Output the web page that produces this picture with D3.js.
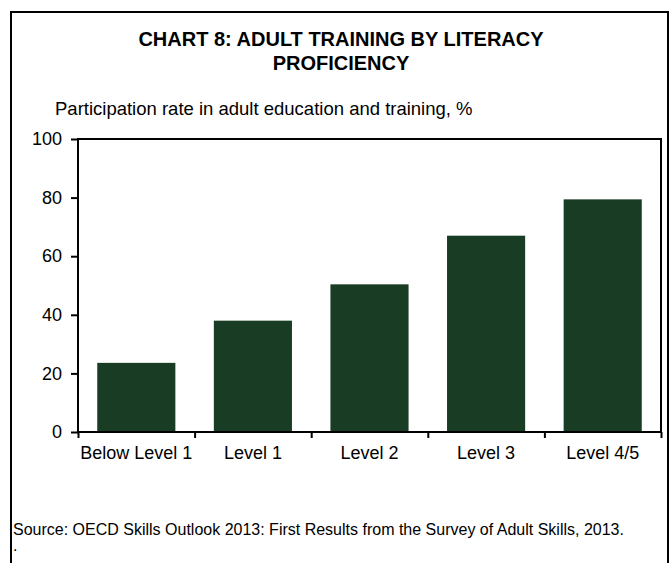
<!DOCTYPE html>
<html>
<head>
<meta charset="utf-8">
<script src="https://cdn.jsdelivr.net/npm/d3@7"></script>
<style>
    body { margin: 0; background: #fff; }
    text { font-family: Arial, "Liberation Sans", sans-serif; fill: #000; }
</style>
</head>
<body>
<div id="chart"></div>
<script>
// Data
const categories = ["Below Level 1", "Level 1", "Level 2", "Level 3", "Level 4/5"];
const rates = [23.6, 38.0, 50.4, 67.0, 79.4];
const yTicks = [0, 20, 40, 60, 80, 100];

const titleLines = ["CHART 8: ADULT TRAINING BY LITERACY", "PROFICIENCY"];
const subtitle = "Participation rate in adult education and training, %";
const sourceNote = "Source: OECD Skills Outlook 2013: First Results from the Survey of Adult Skills, 2013.";

// Canvas Size
const W = 670, H = 563;
const margin = { top: 139, right: 9, bottom: 131, left: 78 },
    width = W - margin.left - margin.right,
    height = H - margin.top - margin.bottom;

const svg = d3.select("#chart")
    .append("svg")
    .attr("width", W)
    .attr("height", H);

// outer frame
svg.append("rect")
    .attr("x", 11).attr("y", 12)
    .attr("width", 657).attr("height", 570)
    .attr("fill", "none")
    .attr("stroke", "#000")
    .attr("stroke-width", 2);

// Title
svg.append("g").selectAll("text")
    .data(titleLines)
    .join("text")
    .attr("x", 341)
    .attr("y", (d, i) => 46 + i * 24)
    .attr("text-anchor", "middle")
    .attr("font-size", 20)
    .attr("font-weight", "bold")
    .text(d => d);

svg.append("text")
    .attr("x", 55).attr("y", 115)
    .attr("font-size", 18.5)
    .text(subtitle);

const g = svg.append("g")
    .attr("transform", `translate(${margin.left},${margin.top})`);

// Scales
const xScale = d3.scaleBand().domain(categories).range([0, width]).paddingInner(0.33).paddingOuter(0.165);
const xTickScale = d3.scaleLinear().domain([0, categories.length]).range([0, width]);
const yScale = d3.scaleLinear().domain([0, 100]).range([height, 0]);

// Bars
g.selectAll("rect.bar")
    .data(rates)
    .join("rect")
    .attr("class", "bar")
    .attr("x", (d, i) => xScale(categories[i]))
    .attr("y", d => yScale(d))
    .attr("width", xScale.bandwidth())
    .attr("height", d => height - yScale(d))
    .attr("fill", "#193d24");

// plot frame
g.append("rect")
    .attr("width", width).attr("height", height)
    .attr("fill", "none")
    .attr("stroke", "#000")
    .attr("stroke-width", 2);

// Y axis
const yAxis = g.append("g")
    .call(d3.axisLeft(yScale).tickValues(yTicks).tickSize(7).tickPadding(9));
yAxis.select(".domain").remove();
yAxis.selectAll("line").attr("stroke", "#000").attr("stroke-width", 2);
yAxis.selectAll("text").attr("font-size", 18).attr("font-family", "Arial, 'Liberation Sans', sans-serif").attr("fill", "#000");

// X axis (tick marks on category boundaries)
const xAxis = g.append("g")
    .attr("transform", `translate(0,${height})`)
    .call(d3.axisBottom(xTickScale).ticks(categories.length).tickSize(6).tickFormat(""));
xAxis.select(".domain").remove();
xAxis.selectAll("line").attr("stroke", "#000").attr("stroke-width", 2);

g.append("g")
    .selectAll("text")
    .data(categories)
    .join("text")
    .attr("x", d => xScale(d) + xScale.bandwidth() / 2)
    .attr("y", height + 27)
    .attr("text-anchor", "middle")
    .attr("font-size", 18)
    .text(d => d);

// Source
svg.append("text")
    .attr("x", 13).attr("y", 535)
    .attr("font-size", 16)
    .text(sourceNote);
svg.append("text")
    .attr("x", 13).attr("y", 551)
    .attr("font-size", 16)
    .text(".");
</script>
</body>
</html>
